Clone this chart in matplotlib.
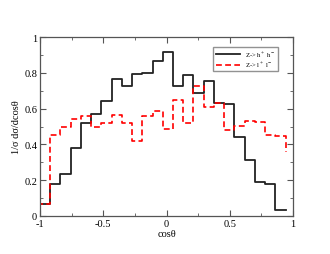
import matplotlib
matplotlib.use("Agg")
import matplotlib.pyplot as plt
from matplotlib.ticker import MultipleLocator
import numpy as np

# bin edges of the histogram (24 bins, -1 .. 0.94)
edges = np.linspace(-1.0, 0.94, 25)

hadrons = [0.065, 0.178, 0.234, 0.379, 0.52, 0.568, 0.641, 0.766, 0.725, 0.794,
           0.80, 0.865, 0.916, 0.725, 0.79, 0.686, 0.753, 0.632, 0.626, 0.439,
           0.312, 0.189, 0.178, 0.03]
leptons = [0.065, 0.452, 0.495, 0.542, 0.56, 0.50, 0.52, 0.566, 0.52, 0.42,
           0.557, 0.585, 0.486, 0.649, 0.518, 0.725, 0.607, 0.632, 0.482, 0.505,
           0.531, 0.525, 0.452, 0.445]
leptons_end = 0.355

plt.rcParams['font.family'] = ['Liberation Serif', 'DejaVu Serif']
plt.rcParams['mathtext.fontset'] = 'stix'

fig = plt.figure(figsize=(3.3, 2.55), dpi=100)
ax = fig.add_axes([0.1212, 0.150, 0.767, 0.700])

xb = np.concatenate([[edges[0]], edges])
yb = np.concatenate([[0.0], hadrons, [hadrons[-1]]])
yr = np.concatenate([[0.0], leptons, [leptons_end]])

ax.step(xb, yb, where='post', color='#222222', lw=1.3, label='Z-> h$^+$ h$^-$')
ax.step(xb, yr, where='post', color='#ff0000', lw=1.2, ls=(0, (3.5, 2)),
        label='Z-> l$^+$ l$^-$')

ax.set_xlim(-1, 1)
ax.set_ylim(0, 1)
ax.xaxis.set_minor_locator(MultipleLocator(0.25))
ax.yaxis.set_minor_locator(MultipleLocator(0.1))
ax.set_xticks([-1, -0.5, 0, 0.5, 1])
ax.set_xticklabels(['-1', '-0.5', '0', '0.5', '1'])
ax.set_yticks([0, 0.2, 0.4, 0.6, 0.8, 1])
ax.set_yticklabels(['0', '0.2', '0.4', '0.6', '0.8', '1'])
ax.tick_params(which='both', direction='in', top=True, right=True,
               color='#555555', labelsize=7.5, pad=2)
ax.tick_params(which='major', length=4, width=0.8)
ax.tick_params(which='minor', length=2, width=0.6)
for s in ax.spines.values():
    s.set_color('#555555')
    s.set_linewidth(0.9)

ax.set_xlabel('cos\u03b8', fontsize=7.5, labelpad=1)
ax.set_ylabel('1/\u03c3 d\u03c3/dcos\u03b8', fontsize=7.5, labelpad=2)

leg = ax.legend(loc='upper right', bbox_to_anchor=(0.94, 0.945), fontsize=4.8,
                frameon=True, fancybox=False, handlelength=3.6,
                borderpad=0.35, labelspacing=0.15, handletextpad=0.8,
                borderaxespad=0)
leg.get_frame().set_edgecolor('#777777')
leg.get_frame().set_linewidth(1.0)

fig.savefig('out.png', dpi=100)
